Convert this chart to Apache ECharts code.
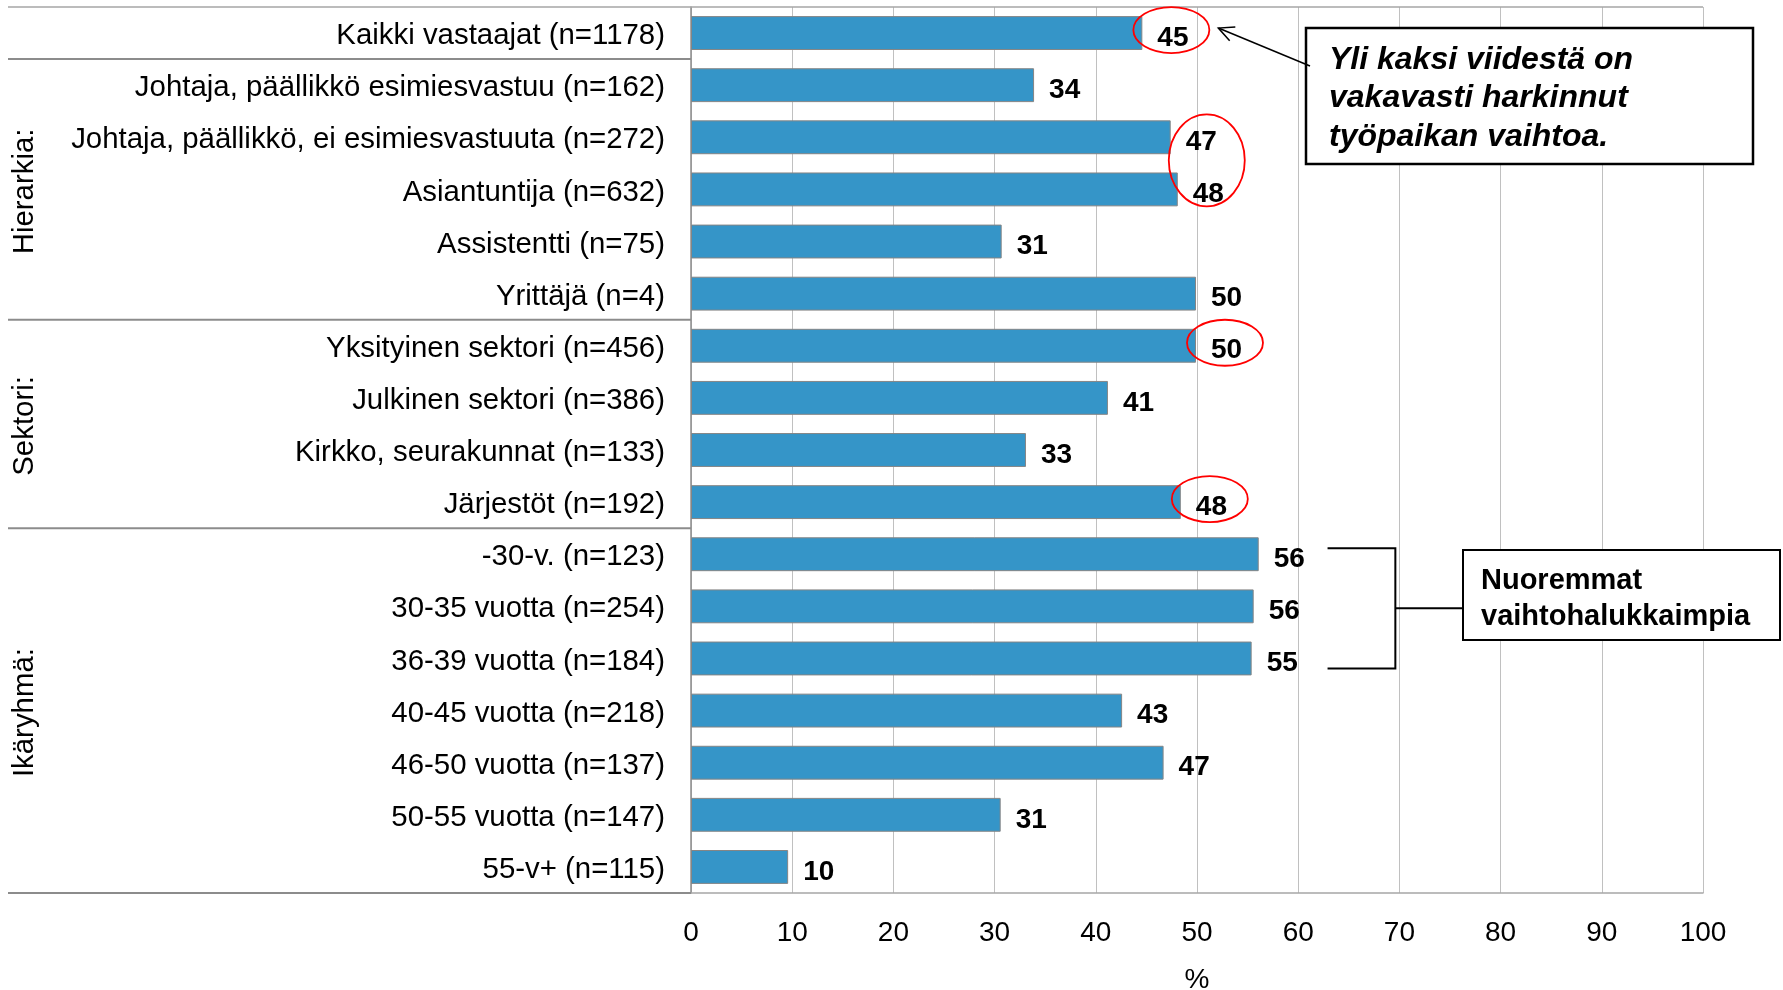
<!DOCTYPE html>
<html><head><meta charset="utf-8">
<script src="https://cdn.jsdelivr.net/npm/echarts@6/dist/echarts.min.js"></script>
<style>html,body{margin:0;padding:0;background:#fff}#c{width:1783px;height:990px}</style>
</head><body><div id="c"></div>
<script>
// ---- data ----
const categories = [
  'Kaikki vastaajat (n=1178)',
  'Johtaja, päällikkö esimiesvastuu (n=162)',
  'Johtaja, päällikkö, ei esimiesvastuuta (n=272)',
  'Asiantuntija (n=632)',
  'Assistentti (n=75)',
  'Yrittäjä (n=4)',
  'Yksityinen sektori (n=456)',
  'Julkinen sektori (n=386)',
  'Kirkko, seurakunnat (n=133)',
  'Järjestöt (n=192)',
  '-30-v. (n=123)',
  '30-35 vuotta (n=254)',
  '36-39 vuotta (n=184)',
  '40-45 vuotta (n=218)',
  '46-50 vuotta (n=137)',
  '50-55 vuotta (n=147)',
  '55-v+ (n=115)'
];
const values = [44.6, 33.9, 47.4, 48.1, 30.7, 49.9, 49.9, 41.2, 33.1, 48.4, 56.1, 55.6, 55.4, 42.6, 46.7, 30.6, 9.6];
const groupNames = ['Hierarkia:', 'Sektori:', 'Ikäryhmä:'];
const groupRanges = [[1, 5], [6, 9], [10, 16]];
const xMin = 0, xMax = 100, xStep = 10;
const axisName = '%';
const circledRows = [[0, 0], [2, 3], [6, 6], [9, 9]];
const bracketRows = [10, 12];
const note1Lines = ['Yli kaksi viidestä on', 'vakavasti harkinnut', 'työpaikan vaihtoa.'];
const note2Lines = ['Nuoremmat', 'vaihtohalukkaimpia'];

(function () {
const FONT = '"Liberation Sans", Arial, sans-serif';
const chart = echarts.init(document.getElementById('c'), null, {renderer: 'canvas'});

chart.setOption({
  animation: false,
  backgroundColor: '#fff',
  grid: {left: 691, right: 80, top: 7, bottom: 97, containLabel: false, outerBoundsMode: 'none'},
  xAxis: {
    type: 'value', min: xMin, max: xMax, interval: xStep,
    name: axisName, nameLocation: 'middle', nameGap: 73,
    nameTextStyle: {fontSize: 28, color: '#000', fontFamily: FONT},
    axisLine: {show: true, lineStyle: {color: '#a6a6a6', width: 1.5}},
    axisTick: {show: false},
    axisLabel: {fontSize: 28, color: '#000', fontFamily: FONT, margin: 26},
    splitLine: {show: true, lineStyle: {color: '#c0c0c0', width: 1}}
  },
  yAxis: {
    type: 'category', data: categories, inverse: true,
    axisLine: {show: true, lineStyle: {color: '#8c8c8c', width: 1.5}},
    axisTick: {show: false},
    axisLabel: {
      color: '#000', margin: 26, interval: 0,
      formatter: v => '{c|' + v + '}',
      rich: {c: {fontSize: 29.4, color: '#000', fontFamily: FONT, padding: [6, 0, 0, 0]}}
    }
  },
  series: [{
    type: 'bar', data: values, barCategoryGap: '35%',
    itemStyle: {color: '#3595C8', borderColor: '#858585', borderWidth: 1},
    label: {
      show: true, position: 'right', distance: 15, offset: [0, 5],
      formatter: p => Math.round(p.value),
      fontSize: 28, fontWeight: 'bold', color: '#000', fontFamily: FONT
    }
  }]
});

// ---- annotations (positions derived from axes) ----
const px = v => chart.convertToPixel({xAxisIndex: 0}, v);
const cy = i => chart.convertToPixel({yAxisIndex: 0}, categories[i]);
const step = cy(1) - cy(0);
const plotTop = cy(0) - step / 2;
const plotBottom = cy(categories.length - 1) + step / 2;
const xLeft = px(xMin), xRight = px(xMax);
const g = [];
const sepStyle = {stroke: '#8c8c8c', lineWidth: 2};

g.push({type: 'line', shape: {x1: 8, y1: plotTop, x2: xRight, y2: plotTop}, style: {stroke: '#a6a6a6', lineWidth: 1.5}, z: 10});
groupRanges.forEach(r => {
  const y = cy(r[0]) - step / 2;
  g.push({type: 'line', shape: {x1: 8, y1: y, x2: xLeft, y2: y}, style: sepStyle, z: 10});
});
g.push({type: 'line', shape: {x1: 8, y1: plotBottom, x2: xLeft, y2: plotBottom}, style: sepStyle, z: 10});

groupNames.forEach((name, k) => {
  const [a, b] = groupRanges[k];
  const y = (cy(a) + cy(b)) / 2;
  g.push({type: 'text', x: 25, y: y + 2, rotation: Math.PI / 2,
    style: {text: name, fontSize: 29.4, fontFamily: FONT, fill: '#000', align: 'center', verticalAlign: 'middle'}, z: 10});
});

const ell = [];
circledRows.forEach(([a, b]) => {
  let mx = 0;
  for (let i = a; i <= b; i++) mx = Math.max(mx, values[i]);
  const cx = px(mx) + 29;
  const cyy = (cy(a) + cy(b)) / 2 - 3;
  const ry = 23 * (b - a + 1);
  ell.push({cx, cy: cyy, rx: 38, ry});
  g.push({type: 'ellipse', shape: {cx: cx, cy: cyy, rx: 38, ry: ry},
    style: {fill: 'none', stroke: '#ff0000', lineWidth: 1.8}, z: 20});
});

const b1 = {x: 1306, y: 28, w: 447, h: 136};
g.push({type: 'rect', shape: {x: b1.x, y: b1.y, width: b1.w, height: b1.h},
  style: {fill: '#fff', stroke: '#000', lineWidth: 2.5}, z: 20});
note1Lines.forEach((t, i) => {
  g.push({type: 'text', x: b1.x + 23, y: b1.y + 32 + i * 38.5,
    style: {text: t, fontSize: 32, fontStyle: 'italic', fontWeight: 'bold', fontFamily: FONT, fill: '#000', align: 'left', verticalAlign: 'middle'}, z: 21});
});
const tip = {x: ell[0].cx + ell[0].rx + 9, y: ell[0].cy - 2};
const tail = {x: b1.x + 4, y: b1.y + 38};
g.push({type: 'line', shape: {x1: tail.x, y1: tail.y, x2: tip.x, y2: tip.y}, style: {stroke: '#000', lineWidth: 1.5}, z: 21});
{
  const dx = tail.x - tip.x, dy = tail.y - tip.y, L = Math.hypot(dx, dy);
  const ux = dx / L, uy = dy / L, ang = 0.45, len = 17;
  const rot = (a) => ({x: tip.x + len * (ux * Math.cos(a) - uy * Math.sin(a)), y: tip.y + len * (ux * Math.sin(a) + uy * Math.cos(a))});
  const p1 = rot(ang), p2 = rot(-ang);
  g.push({type: 'polyline', shape: {points: [[p1.x, p1.y], [tip.x, tip.y], [p2.x, p2.y]]}, style: {stroke: '#000', lineWidth: 1.5, fill: 'none'}, z: 21});
}

const brTop = cy(bracketRows[0]) - 6, brBot = cy(bracketRows[1]) + 10;
const brX1 = px(62.9), brX2 = px(69.6);
const b2 = {x: 1463, y: 550, w: 317, h: 90};
g.push({type: 'polyline', shape: {points: [[brX1, brTop], [brX2, brTop], [brX2, brBot], [brX1, brBot]]},
  style: {stroke: '#000', lineWidth: 2, fill: 'none'}, z: 20});
g.push({type: 'line', shape: {x1: brX2, y1: (brTop + brBot) / 2, x2: b2.x, y2: (brTop + brBot) / 2},
  style: {stroke: '#000', lineWidth: 2}, z: 20});
g.push({type: 'rect', shape: {x: b2.x, y: b2.y, width: b2.w, height: b2.h},
  style: {fill: '#fff', stroke: '#000', lineWidth: 2}, z: 20});
note2Lines.forEach((t, i) => {
  g.push({type: 'text', x: b2.x + 18, y: b2.y + 31 + i * 36,
    style: {text: t, fontSize: 29, fontWeight: 'bold', fontFamily: FONT, fill: '#000', align: 'left', verticalAlign: 'middle'}, z: 21});
});

chart.setOption({graphic: {elements: g}});
})();
</script>
</body></html>
